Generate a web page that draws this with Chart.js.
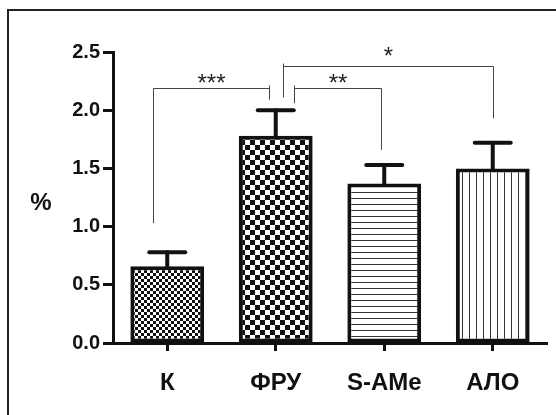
<!DOCTYPE html>
<html>
<head>
<meta charset="utf-8">
<script src="https://cdn.jsdelivr.net/npm/chart.js@4"></script>
<style>body{margin:0;background:#fff}</style>
</head>
<body>
<canvas id="myChart" width="556" height="415"></canvas>
<script>
var categories = ["К", "ФРУ", "S-AMe", "АЛО"];
var means = [0.66, 1.78, 1.37, 1.50];
var sem = [0.12, 0.22, 0.16, 0.22];
var yTicks = [0, 0.5, 1.0, 1.5, 2.0, 2.5];
var yTitle = "%";

// significance brackets: pair of groups, bar height, leg ends (left, right)
var sigLabels = ["***", "**", "*"];
var sigPairs = [[0, 1], [1, 2], [1, 3]];
var sigLevels = [2.19, 2.19, 2.38];
var sigLegEnds = [[1.03, 2.09], [2.06, 1.66], [2.11, 1.93]];

var FONT = 'Arial, "Liberation Sans", sans-serif';
var ctx = document.getElementById("myChart").getContext("2d");

function checker(size) {
  var c = document.createElement("canvas");
  c.width = c.height = size * 2;
  var g = c.getContext("2d");
  g.fillStyle = "#fff";
  g.fillRect(0, 0, size * 2, size * 2);
  g.fillStyle = "#111";
  g.fillRect(0, 0, size, size);
  g.fillRect(size, size, size, size);
  return ctx.createPattern(c, "repeat");
}

function stripes(horizontal, step) {
  var c = document.createElement("canvas");
  c.width = horizontal ? 1 : step * 2;
  c.height = horizontal ? step : 1;
  var g = c.getContext("2d");
  g.fillStyle = "#fff";
  g.fillRect(0, 0, c.width, c.height);
  g.fillStyle = "#333";
  g.fillRect(0, 0, 1, 1);
  if (!horizontal) g.fillRect(step, 0, 1, 1);
  return ctx.createPattern(c, "repeat");
}

var fills = [checker(3), checker(5), stripes(true, 6), stripes(false, 7)];

var extras = {
  id: "extras",
  afterDatasetsDraw: function (chart) {
    var c = chart.ctx;
    var x = chart.scales.x, y = chart.scales.y;
    var meta = chart.getDatasetMeta(0);
    c.save();
    // error bars
    c.strokeStyle = "#111";
    c.lineWidth = 4;
    c.lineCap = "round";
    meta.data.forEach(function (bar, i) {
      var top = y.getPixelForValue(means[i] + sem[i]);
      c.beginPath();
      c.moveTo(bar.x, bar.y);
      c.lineTo(bar.x, top);
      c.stroke();
      c.beginPath();
      c.moveTo(bar.x - 18, top);
      c.lineTo(bar.x + 18, top);
      c.stroke();
    });
    // significance brackets
    var dx = [[-14, -7], [18, -3], [7, 0]];
    c.lineCap = "butt";
    c.lineWidth = 1;
    c.strokeStyle = "#444";
    c.fillStyle = "#222";
    c.font = "24px " + FONT;
    c.textAlign = "center";
    c.textBaseline = "alphabetic";
    sigPairs.forEach(function (p, k) {
      var x1 = Math.round(x.getPixelForValue(p[0]) + dx[k][0]) + 0.5;
      var x2 = Math.round(x.getPixelForValue(p[1]) + dx[k][1]) + 0.5;
      var h = Math.round(y.getPixelForValue(sigLevels[k])) + 0.5;
      c.beginPath();
      c.moveTo(x1, y.getPixelForValue(sigLegEnds[k][0]));
      c.lineTo(x1, h - (p[0] === 1 ? 3 : 0));
      c.moveTo(x1, h);
      c.lineTo(x2, h);
      c.moveTo(x2, h - (p[1] === 1 ? 3 : 0));
      c.lineTo(x2, y.getPixelForValue(sigLegEnds[k][1]));
      c.stroke();
      c.fillText(sigLabels[k], (x1 + x2) / 2, h + (k === 2 ? -3 : 2));
    });
    c.restore();
  },
  afterDraw: function (chart) {
    var c = chart.ctx;
    c.save();
    c.strokeStyle = "#222";
    c.lineWidth = 2;
    c.beginPath();
    c.moveTo(8, 415);
    c.lineTo(8, 10);
    c.lineTo(556, 10);
    c.stroke();
    c.fillStyle = "#111";
    c.font = "bold 24px " + FONT;
    c.textAlign = "center";
    c.textBaseline = "middle";
    c.fillText(yTitle, 41, 203);
    c.restore();
  },
};

var myChart = new Chart(ctx, {
  type: "bar",
  data: {
    labels: categories,
    datasets: [
      {
        data: means,
        backgroundColor: fills,
        borderColor: "#111",
        borderWidth: 4,
        borderSkipped: false,
        barPercentage: 0.68,
        categoryPercentage: 1,
      },
    ],
  },
  plugins: [extras],
  options: {
    responsive: false,
    animation: false,
    layout: { padding: { top: 52, right: 9, left: 0, bottom: 0 } },
    plugins: { legend: { display: false }, tooltip: { enabled: false } },
    scales: {
      x: {
        offset: true,
        grid: { drawOnChartArea: false, offset: false, tickLength: 8, tickWidth: 3, tickColor: "#111" },
        border: { display: true, width: 3, color: "#111" },
        ticks: { color: "#111", padding: 18, font: { family: FONT, size: 24, weight: "bold" } },
        afterFit: function (s) { s.height = 72; },
      },
      y: {
        min: yTicks[0],
        max: yTicks[yTicks.length - 1],
        grid: { drawOnChartArea: false, tickLength: 10, tickWidth: 3, tickColor: "#111" },
        border: { display: true, width: 3, color: "#111" },
        ticks: {
          stepSize: 0.5,
          color: "#111",
          padding: 3,
          font: { family: FONT, size: 20, weight: "bold" },
          callback: function (v) { return v.toFixed(1); },
        },
        afterFit: function (s) { s.width = 113; },
      },
    },
  },
});
</script>
</body>
</html>
